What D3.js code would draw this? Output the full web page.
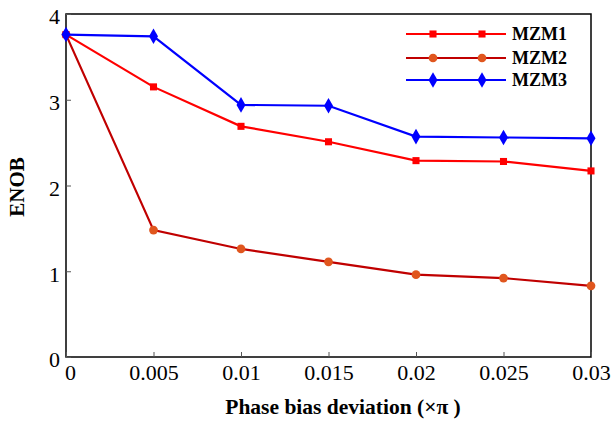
<!DOCTYPE html>
<html><head><meta charset="utf-8">
<script src="https://cdn.jsdelivr.net/npm/d3@7"></script>
<style>body{margin:0;background:#fff}svg{display:block}</style>
</head><body>
<svg id="c" width="613" height="421"></svg>
<script>
const xValues = [0, 0.005, 0.01, 0.015, 0.02, 0.025, 0.03];
const xTickLabels = ["0", "0.005", "0.01", "0.015", "0.02", "0.025", "0.03"];
const yTicks = [0, 1, 2, 3, 4];
const mzm1 = [3.76, 3.15, 2.69, 2.51, 2.29, 2.28, 2.17];
const mzm2 = [3.76, 1.48, 1.26, 1.11, 0.96, 0.92, 0.83];
const mzm3 = [3.76, 3.74, 2.94, 2.93, 2.57, 2.56, 2.55];
const seriesNames = ["MZM1", "MZM2", "MZM3"];

const svg = d3.select("#c");
const m = {l: 66, r: 591, t: 14, b: 357};
const x = d3.scaleLinear().domain([0, 0.03]).range([m.l, m.r]);
const y = d3.scaleLinear().domain([0, 4]).range([m.b, m.t]);
const font = "'Liberation Serif','Times New Roman',serif";

// frame
svg.append("rect").attr("x", m.l).attr("y", m.t).attr("width", m.r - m.l).attr("height", m.b - m.t)
  .attr("fill", "none").attr("stroke", "#000").attr("stroke-width", 1.5);

// x axis ticks (inward)
const xAxis = d3.axisBottom(x).tickValues(xValues).tickSize(-5).tickPadding(7)
  .tickFormat((d, i) => xTickLabels[i]);
const gx = svg.append("g").attr("transform", `translate(0,${m.b})`).call(xAxis);
gx.select(".domain").remove();
gx.selectAll("line").attr("stroke", "#555");
gx.selectAll("text").attr("font-family", font).attr("font-size", 22).attr("fill", "#000");
gx.selectAll(".tick").filter(d => d === 0).select("text").attr("dx", 4);

const yAxis = d3.axisLeft(y).tickValues(yTicks).tickSize(-5).tickPadding(6).tickFormat(d3.format("d"));
const gy = svg.append("g").attr("transform", `translate(${m.l},0)`).call(yAxis);
gy.select(".domain").remove();
gy.selectAll("line").attr("stroke", "#555");
gy.selectAll("text").attr("font-family", font).attr("font-size", 22).attr("fill", "#000").attr("dy", "0.45em");

// axis titles
svg.append("text").attr("x", 343).attr("y", 414).attr("text-anchor", "middle")
  .attr("font-family", font).attr("font-weight", "bold").attr("font-size", 21.5).text("Phase bias deviation (×π )");
svg.append("text").attr("transform", `translate(24,187) rotate(-90)`).attr("text-anchor", "middle")
  .attr("font-family", font).attr("font-weight", "bold").attr("font-size", 21).text("ENOB");

const series = [
  {name: seriesNames[0], vals: mzm1, line: "#ff0000", fill: "#ff0000", shape: d3.symbolSquare, size: 50},
  {name: seriesNames[1], vals: mzm2, line: "#c00000", fill: "#e0561e", shape: d3.symbolCircle, size: 60},
  {name: seriesNames[2], vals: mzm3, line: "#0000ff", fill: "#0000ff", shape: d3.symbolDiamond, size: 70},
];
const line = d3.line().x((d, i) => x(xValues[i])).y(d => y(d));

// draw in order MZM2, MZM1, MZM3
[1, 0, 2].forEach(k => {
  const s = series[k];
  svg.append("path").attr("d", line(s.vals)).attr("fill", "none").attr("stroke", s.line).attr("stroke-width", 2.2);
  svg.selectAll(null).data(s.vals).enter().append("path")
    .attr("transform", (d, i) => `translate(${x(xValues[i])},${y(d)})`)
    .attr("d", d3.symbol().type(s.shape).size(s.size)).attr("fill", s.fill);
});

// legend
const lx0 = 406, lx1 = 506, lys = [34, 58, 80];
series.forEach((s, k) => {
  const g = svg.append("g");
  g.append("line").attr("x1", lx0).attr("x2", lx1).attr("y1", lys[k]).attr("y2", lys[k])
    .attr("stroke", s.line).attr("stroke-width", 1.8);
  [433, 482].forEach(px => g.append("path").attr("transform", `translate(${px},${lys[k]})`)
    .attr("d", d3.symbol().type(s.shape).size(s.size)).attr("fill", s.fill));
  g.append("text").attr("x", 512).attr("y", lys[k] + 6).attr("font-family", font).attr("font-weight", "bold")
    .attr("font-size", 18).text(s.name);
});
</script>
</body></html>
